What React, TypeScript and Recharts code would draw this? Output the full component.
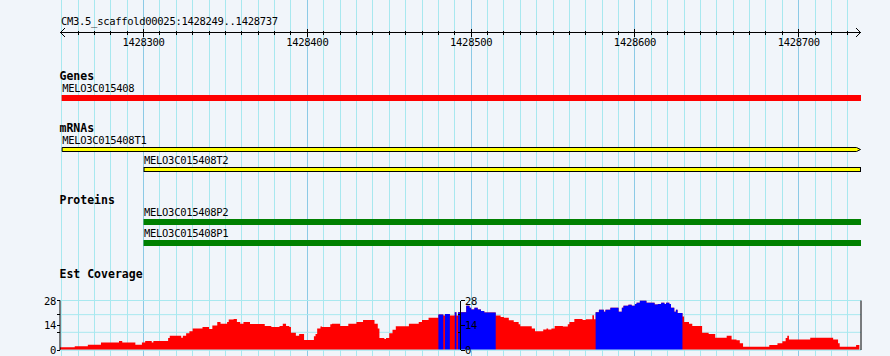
import React from "react";
import {
  ComposedChart,
  BarChart,
  Bar,
  Area,
  Line,
  XAxis,
  YAxis,
  CartesianGrid,
  ReferenceLine,
} from "recharts";

const region = "CM3.5_scaffold00025:1428249..1428737";
const domainStart = 1428249;
const domainEnd = 1428738;
const majorTicks = [1428300, 1428400, 1428500, 1428600, 1428700];

const genes = [{ name: "MELO3C015408", start: 1428250, end: 1428738 }];
const mrnas = [
  { name: "MELO3C015408T1", start: 1428250, end: 1428738, pointed: true },
  { name: "MELO3C015408T2", start: 1428300, end: 1428738, pointed: false },
];
const proteins = [
  { name: "MELO3C015408P2", start: 1428300, end: 1428738 },
  { name: "MELO3C015408P1", start: 1428300, end: 1428738 },
];

// est coverage, step segments (start position, depth)
const covPos = [
  1428249, 1428258, 1428266, 1428274, 1428285, 1428287, 1428295, 1428299, 1428301, 1428305,
  1428306, 1428315, 1428316, 1428323, 1428324, 1428326, 1428328, 1428330, 1428336, 1428340,
  1428342, 1428345, 1428347, 1428351, 1428352, 1428355, 1428357, 1428359, 1428361, 1428365,
  1428374, 1428378, 1428383, 1428385, 1428387, 1428389, 1428390, 1428393, 1428395, 1428398,
  1428404, 1428405, 1428406, 1428408, 1428409, 1428414, 1428415, 1428420, 1428425, 1428430,
  1428434, 1428441, 1428443, 1428444, 1428447, 1428448, 1428450, 1428452, 1428454, 1428462,
  1428468, 1428470, 1428474, 1428480, 1428483, 1428484, 1428487, 1428490, 1428491, 1428492,
  1428497, 1428499, 1428500, 1428502, 1428504, 1428506, 1428508, 1428515, 1428518, 1428520,
  1428523, 1428526, 1428529, 1428530, 1428537, 1428539, 1428544, 1428546, 1428547, 1428549,
  1428551, 1428556, 1428559, 1428560, 1428563, 1428568, 1428570, 1428574, 1428575, 1428576,
  1428578, 1428581, 1428582, 1428585, 1428590, 1428592, 1428593, 1428596, 1428598, 1428600,
  1428601, 1428603, 1428607, 1428612, 1428614, 1428616, 1428618, 1428619, 1428621, 1428622,
  1428624, 1428625, 1428626, 1428629, 1428630, 1428633, 1428635, 1428641, 1428645, 1428649,
  1428656, 1428659, 1428662, 1428664, 1428666, 1428682, 1428687, 1428690, 1428692, 1428693,
  1428694, 1428707, 1428721, 1428724, 1428725, 1428735, 1428737,
];
const covVal = [
  1.5, 2.1, 3.0, 4.2, 5.1, 4.2, 3.0, 4.2, 5.1, 4.2,
  5.1, 6.8, 8.1, 7.0, 8.1, 9.5, 10.6, 12.1, 13.0, 11.9,
  13.8, 15.9, 14.8, 15.9, 17.2, 17.6, 15.9, 14.8, 15.9, 14.7,
  13.6, 13.0, 13.6, 14.8, 13.6, 13.0, 9.8, 8.1, 9.1, 5.7,
  7.8, 9.1, 12.1, 13.3, 13.0, 14.6, 14.8, 13.6, 14.8, 15.9,
  17.0, 14.8, 12.1, 6.8, 6.2, 6.8, 9.5, 11.4, 13.4, 14.8,
  15.9, 17.0, 18.2, 20.1, 19.5, 20.3, 19.5, 21.4, 19.5, 21.3,
  25.0, 23.9, 22.9, 23.9, 22.9, 22.0, 21.2, 19.5, 18.6, 18.2,
  16.8, 15.8, 14.6, 13.4, 12.1, 10.6, 11.6, 12.1, 11.6, 12.1,
  13.6, 13.3, 14.6, 15.9, 17.6, 17.0, 17.4, 19.7, 17.4, 21.4,
  22.7, 21.6, 22.7, 23.9, 21.6, 23.9, 25.0, 25.6, 25.0, 26.0,
  26.7, 27.8, 26.7, 25.7, 26.0, 26.7, 26.0, 26.7, 26.0, 23.9,
  21.6, 22.7, 21.0, 18.9, 15.9, 14.8, 13.6, 9.7, 9.1, 7.0,
  8.0, 5.9, 5.5, 3.8, 1.9, 2.8, 3.8, 4.9, 6.8, 8.0,
  5.9, 7.0, 5.9, 3.8, 1.9, 2.8, 2.8,
];
const covMax = 28;
const covTicks = [0, 10, 14, 20, 28];
const covLabels = [0, 14, 28];
const covGrid = [0, 10, 20, 28];
const highCutoff = 20;

const BG = "#f1f5fa";
const GRID = "#a8e8ef";
const GRID_MAJOR = "#8ccae6";
const FONT = "'DejaVu Sans Mono', monospace";

const gridTicks: number[] = [];
for (let v = 1428250; v < domainEnd; v += 10) gridTicks.push(v);
const rulerTicks = [domainStart, ...gridTicks.filter((v) => v > 1428250), domainEnd];

const cov = covPos.map((pos, i) => ({
  pos,
  all: covVal[i],
  high: covVal[i] >= highCutoff ? covVal[i] : 0,
}));

const W = 890;
const M = { left: 60, right: 29 };
const LABEL_ROOM = 14;

function RulerTick({ x, y, payload }: any) {
  const v = payload.value;
  if (v === domainStart)
    return <path d={`M${x + 5},${y - 4.5}L${x + 0.5},${y}L${x + 5},${y + 4.5}`} stroke="#000" fill="none" />;
  if (v === domainEnd)
    return <path d={`M${x - 5},${y - 4.5}L${x - 0.5},${y}L${x - 5},${y + 4.5}`} stroke="#000" fill="none" />;
  const major = majorTicks.includes(v);
  const h = major ? 4 : 2;
  return (
    <g>
      <line x1={x} x2={x} y1={y - h} y2={y + h} stroke="#000" shapeRendering="crispEdges" />
      {major && (
        <text x={x} y={y + 13.5} textAnchor="middle" fontFamily={FONT} fontSize={10.5} letterSpacing={-0.3} fill="#000">
          {v}
        </text>
      )}
    </g>
  );
}

function SideTick({ x, y, payload, side }: any) {
  const v = payload.value;
  const major = covLabels.includes(v);
  const dir = side === "left" ? -1 : 1;
  const len = major ? 3.5 : 3;
  return (
    <g>
      <line x1={x} x2={x + dir * len} y1={y} y2={y} stroke="#000" shapeRendering="crispEdges" />
      {major && (
        <text
          x={x + dir * 4}
          y={y + 4}
          textAnchor={side === "left" ? "end" : "start"}
          fontFamily={FONT}
          fontSize={10.5}
          letterSpacing={-0.3}
          fill="#000"
        >
          {v}
        </text>
      )}
    </g>
  );
}

function MidScale({ viewBox }: any) {
  if (!viewBox) return null;
  const x = viewBox.x;
  const top = Math.min(viewBox.y, viewBox.y + viewBox.height);
  const h = Math.abs(viewBox.height);
  return (
    <g>
      {covTicks.map((v) => {
        const yy = top + h * (1 - v / covMax);
        const major = covLabels.includes(v);
        return (
          <g key={v}>
            <line
              x1={x}
              x2={major ? x + 4 : x - 3}
              y1={yy}
              y2={yy}
              stroke="#000"
              shapeRendering="crispEdges"
            />
            {major && (
              <text x={x + 4.5} y={yy + 4} fontFamily={FONT} fontSize={10.5} letterSpacing={-0.3} fill="#000">
                {v}
              </text>
            )}
          </g>
        );
      })}
    </g>
  );
}

function FeatureShape({ x, y, width, height, payload, kind }: any) {
  let body;
  if (kind === "mrna") {
    const x0 = x + 0.5;
    const y0 = y + 0.5;
    const x1 = x + width - 0.5;
    const y1 = y + height - 0.5;
    body = payload.pointed ? (
      <path
        d={`M${x0},${y0}L${x1 - 4},${y0}L${x1},${(y0 + y1) / 2}L${x1 - 4},${y1}L${x0},${y1}Z`}
        fill="#ffff00"
        stroke="#000"
      />
    ) : (
      <rect x={x0} y={y0} width={x1 - x0} height={y1 - y0} fill="#ffff00" stroke="#000" />
    );
  } else {
    body = <rect x={x} y={y} width={width} height={height} fill={kind === "gene" ? "#ff0000" : "#008000"} />;
  }
  return (
    <g>
      {body}
      <text x={x + 0.5} y={y - 3.5} fontFamily={FONT} fontSize={10.5} letterSpacing={-0.3} fill="#000">
        {payload.name}
      </text>
    </g>
  );
}

function Track({ rows, kind, top, height, barSize }: any) {
  const data = rows.map((r: any) => ({ ...r, range: [r.start, r.end] }));
  return (
    <div style={{ position: "absolute", left: 0, top: top - LABEL_ROOM }}>
      <BarChart
        width={W}
        height={height + LABEL_ROOM}
        data={data}
        layout="vertical"
        margin={{ top: LABEL_ROOM, bottom: 0, left: M.left, right: M.right }}
      >
        <XAxis type="number" domain={[domainStart, domainEnd]} hide allowDataOverflow />
        <YAxis type="category" dataKey="name" hide />
        <Bar
          dataKey="range"
          barSize={barSize}
          isAnimationActive={false}
          shape={(p: any) => <FeatureShape {...p} kind={kind} />}
        />
      </BarChart>
    </div>
  );
}

export default function App() {
  const mid = (domainStart + domainEnd) / 2;
  const headStyle = { fontFamily: FONT, fontSize: 11.5, fontWeight: 700 } as const;
  return (
    <div style={{ position: "relative", width: W, height: 356, background: BG, overflow: "hidden" }}>
      <style>{"body{margin:0}"}</style>

      {/* background grid, full height */}
      <div style={{ position: "absolute", left: 0, top: 0 }}>
        <ComposedChart width={W} height={356} data={cov} margin={{ top: 0, bottom: 0, left: M.left, right: M.right }}>
          <XAxis type="number" dataKey="pos" domain={[domainStart, domainEnd]} hide allowDataOverflow />
          <YAxis hide domain={[0, covMax]} />
          <Line dataKey="all" stroke="none" dot={false} isAnimationActive={false} />
          {gridTicks.map((v) => (
            <ReferenceLine
              key={v}
              x={v}
              stroke={majorTicks.includes(v) ? GRID_MAJOR : GRID}
              shapeRendering="crispEdges"
            />
          ))}
        </ComposedChart>
      </div>

      {/* ruler */}
      <div style={{ position: "absolute", left: 0, top: 0 }}>
        <ComposedChart width={W} height={50} data={cov} margin={{ top: 0.5, bottom: 0, left: M.left, right: M.right }}>
          <XAxis
            orientation="top"
            type="number"
            dataKey="pos"
            domain={[domainStart, domainEnd]}
            allowDataOverflow
            ticks={rulerTicks}
            interval={0}
            height={32}
            tickSize={0}
            tickMargin={0}
            tickLine={false}
            axisLine={{ stroke: "#000" }}
            tick={<RulerTick />}
          />
          <YAxis hide />
        </ComposedChart>
      </div>

      <Track rows={genes} kind="gene" top={88} height={20} barSize={6} />
      <Track rows={mrnas} kind="mrna" top={139} height={40} barSize={5} />
      <Track rows={proteins} kind="protein" top={211} height={42} barSize={6} />

      {/* est coverage */}
      <div style={{ position: "absolute", left: 0, top: 290 }}>
        <ComposedChart width={W} height={66} data={cov} margin={{ top: 10.5, bottom: 6, left: 0, right: 0 }}>
          <CartesianGrid yAxisId="l" vertical={false} horizontalValues={covGrid} stroke={GRID} />
          <XAxis type="number" dataKey="pos" domain={[domainStart, domainEnd]} hide allowDataOverflow />
          <YAxis
            yAxisId="l"
            orientation="left"
            width={M.left}
            domain={[0, covMax]}
            ticks={covTicks}
            interval={0}
            tickSize={0}
            tickMargin={0}
            tickLine={false}
            axisLine={{ stroke: "#000" }}
            tick={<SideTick side="left" />}
          />
          <YAxis
            yAxisId="r"
            orientation="right"
            width={M.right}
            domain={[0, covMax]}
            ticks={covTicks}
            interval={0}
            tickSize={0}
            tickMargin={0}
            tickLine={false}
            axisLine={{ stroke: "#000" }}
            tick={<SideTick side="right" />}
          />
          <Area
            yAxisId="l"
            type="stepAfter"
            dataKey="all"
            fill="#ff0000"
            fillOpacity={1}
            stroke="none"
            isAnimationActive={false}
          />
          <Area
            yAxisId="l"
            type="stepAfter"
            dataKey="high"
            fill="#0000ff"
            fillOpacity={1}
            stroke="none"
            isAnimationActive={false}
          />
          <ReferenceLine yAxisId="l" y={0} stroke={GRID} />
          <ReferenceLine yAxisId="l" x={mid} stroke="#000" shapeRendering="crispEdges" label={<MidScale />} />
        </ComposedChart>
      </div>

      {/* titles */}
      <svg width={W} height={356} style={{ position: "absolute", left: 0, top: 0, pointerEvents: "none" }}>
        <text x={61} y={25} fontFamily={FONT} fontSize={10.5} letterSpacing={-0.3} fill="#000">
          {region}
        </text>
        <text x={59.5} y={80} {...headStyle}>Genes</text>
        <text x={59.5} y={131.5} {...headStyle}>mRNAs</text>
        <text x={59.5} y={204} {...headStyle}>Proteins</text>
        <text x={59.5} y={278} {...headStyle}>Est Coverage</text>
      </svg>
    </div>
  );
}
